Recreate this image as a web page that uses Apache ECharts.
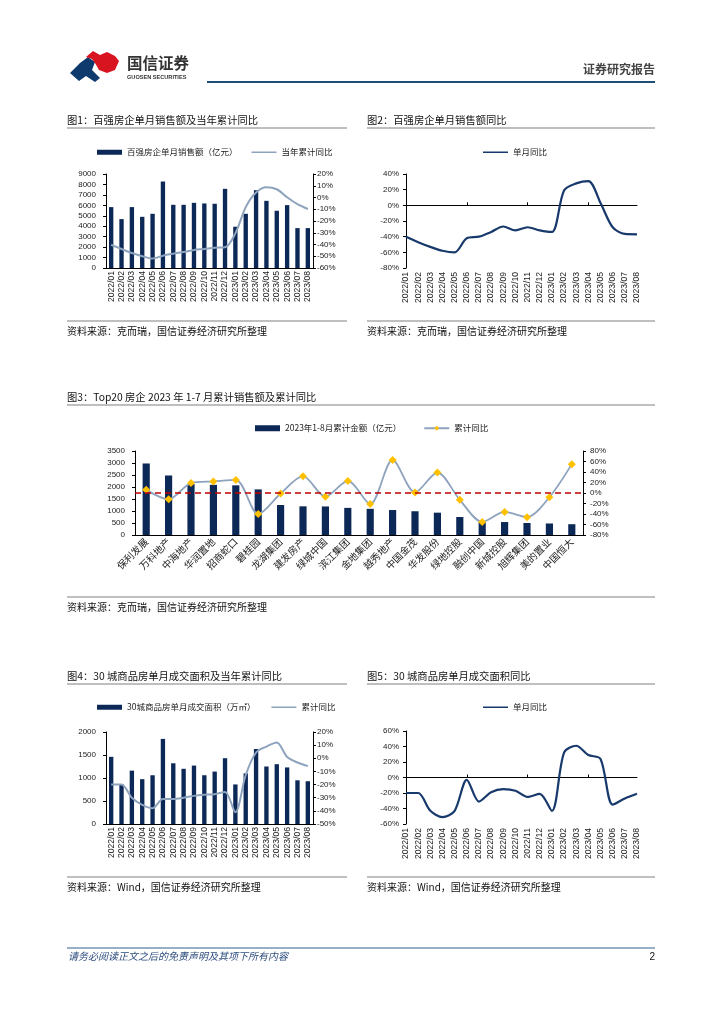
<!DOCTYPE html>
<html><head><meta charset="utf-8">
<script src="https://cdn.jsdelivr.net/npm/echarts@6/dist/echarts.min.js"></script>
<style>html,body{margin:0;padding:0;background:#fff}#c{width:724px;height:1024px}</style>
</head><body><div id="c"></div>
<script>
// ---------- DATA ----------
const months = ['2022/01','2022/02','2022/03','2022/04','2022/05','2022/06','2022/07','2022/08','2022/09','2022/10','2022/11','2022/12','2023/01','2023/02','2023/03','2023/04','2023/05','2023/06','2023/07','2023/08'];
// Fig1
const c1Sales = [5830,4680,5830,4900,5190,8280,6050,6050,6240,6180,6150,7580,3950,5190,7450,6430,5480,6020,3820,3820];
const c1CumYoY = [-40.2,-43.8,-47.2,-50,-52,-49.5,-47.8,-46.4,-44.7,-43.8,-42.7,-42.4,-30.5,-8.2,4.2,8.7,7,0.2,-5.7,-9.8];
// Fig2
const c2MonthYoY = [-40,-47,-53,-58,-60,-42,-40,-34,-27,-32,-28,-32,-34,19,28,31,3,-28,-36.5,-37];
// Fig3
const c3Companies = ['保利发展','万科地产','中海地产','华润置地','招商蛇口','碧桂园','龙湖集团','建发房产','绿城中国','滨江集团','金地集团','越秀地产','中国金茂','华发股份','绿地控股','融创中国','新城控股','旭辉集团','美的置业','中国恒大'];
const c3Sales = [2980,2480,2120,2090,2070,1900,1250,1195,1190,1130,1090,1040,990,930,750,560,540,500,480,450];
const c3CumYoY = [6,-12,19,22,25,-40,-1,32,-7,23,-21,63,1,39,-13,-55,-36,-46,-8,55];
// Fig4
const c4Area = [1460,860,1160,975,1060,1850,1320,1200,1270,1060,1140,1430,860,1100,1630,1250,1300,1230,950,930];
const c4CumYoY = [-20,-20,-30,-35.5,-38,-31,-31,-30,-28.6,-27.8,-27.3,-25.6,-41,-12.7,4.4,8.9,12,1,-3.2,-6];
// Fig5
const c5MonthYoY = [-20,-20,-43,-51,-43,-3,-31,-19,-15,-17,-25,-21,-43,32,41,29,24,-35,-27,-21];

// ---------- STYLE ----------
const NAVY = '#0c2857';
const STEEL = '#8ea3bd';
const LINE2 = '#17396b';
const FONT = '"Liberation Sans", Arial, "Noto Sans CJK SC", sans-serif';
const CJK = '"Noto Sans CJK SC", "Liberation Sans", sans-serif';
const pct = v => v + '%';
const plain = v => String(v);
const SMOOTH = 0.3;
// thin horizontal line icon (bounds kept at full item box)
const LINE_ICON = 'path://M0,0L0.01,0M0,1.8L25,1.8L25,3.2L0,3.2ZM25,5L24.99,5';

function valAxis(grid, pos, min, max, interval, fmt, margin) {
  return {type:'value', gridIndex:grid, position:pos, min:min, max:max, interval:interval,
    splitLine:{show:false},
    axisLine:{show:true, onZero:false, lineStyle:{color:'#000', width:1}},
    axisTick:{show:true, length:3, lineStyle:{color:'#000'}},
    axisLabel:{fontSize:8, color:'#222', margin:margin, fontFamily:FONT, formatter:fmt}};
}
function catAxis(grid, data, gap, rotate, fs, showLine, margin) {
  return {type:'category', gridIndex:grid, data:data, boundaryGap:gap, position:'bottom',
    axisLine:{show:showLine, onZero:false, lineStyle:{color:'#000', width:1}},
    axisTick:{show:false},
    axisLabel:{interval:0, rotate:rotate, fontSize:fs, color:'#222', margin:margin, fontFamily:rotate===45?CJK:FONT}};
}
function zeroAxis(grid, data) {
  return {type:'category', gridIndex:grid, data:data, boundaryGap:false, position:'bottom',
    axisLine:{show:true, onZero:true, lineStyle:{color:'#000', width:1}},
    axisTick:{show:true, inside:true, length:3, lineStyle:{color:'#000'}},
    axisLabel:{show:false}};
}
function legend(left, top, gap, ih, items) {
  return {left:left, top:top, itemWidth:25, itemHeight:ih, itemGap:gap, padding:0,
    textStyle:{fontSize:8.5, color:'#222', fontFamily:CJK},
    formatter: n => n.split('#')[0], selectedMode:false, data:items};
}

// ---------- GRAPHICS (text & rules) ----------
const G = [];
function txt(x, y, s, font, fill, align) {
  G.push({type:'text', x:x, y:y, style:{text:s, font:font, fill:fill||'#111', align:align||'left', verticalAlign:'middle'}});
}
function rule(x1, y, x2, color, w) {
  G.push({type:'line', shape:{x1:x1, y1:y, x2:x2, y2:y}, style:{stroke:color, lineWidth:w}});
}
// logo
G.push({type:'polygon', shape:{points:[[70,73],[80,63],[88,57],[95,62],[92,70],[100,78],[95,82],[86,76],[79,81]]}, style:{fill:'#0f3a6e'}});
G.push({type:'polygon', shape:{points:[[86,57],[93,51],[100,55],[107,52],[115,56],[119,61],[115,70],[107,73],[99,70],[95,63],[92,59]]}, style:{fill:'#d7141f'}});
txt(127, 63, '国信证券', 'bold 15.5px ' + CJK, '#333');
txt(127, 77, 'GUOSEN SECURITIES', 'bold 5.6px ' + FONT, '#333');
rule(207, 82, 655, '#1f4e79', 2);
txt(655, 69, '证券研究报告', 'bold 12px ' + CJK, '#444', 'right');

const TF = '10.3px ' + CJK;
const SF = '10px ' + CJK;
txt(67, 120, '图1：百强房企单月销售额及当年累计同比', TF);
rule(67, 128, 347, '#808080', 1.2);
txt(367, 120, '图2：百强房企单月销售额同比', TF);
rule(367, 128, 655, '#808080', 1.2);
rule(67, 321, 347, '#808080', 1.2);
rule(367, 321, 655, '#808080', 1.2);
txt(67, 331, '资料来源：克而瑞，国信证券经济研究所整理', SF);
txt(367, 331, '资料来源：克而瑞，国信证券经济研究所整理', SF);

txt(67, 397, '图3：Top20 房企 2023 年 1-7 月累计销售额及累计同比', TF);
rule(67, 405, 655, '#808080', 1.2);
rule(67, 597, 655, '#808080', 1.2);
txt(67, 607, '资料来源：克而瑞，国信证券经济研究所整理', SF);

txt(67, 676, '图4：30 城商品房单月成交面积及当年累计同比', TF);
rule(67, 684, 347, '#808080', 1.2);
txt(367, 676, '图5：30 城商品房单月成交面积同比', TF);
rule(367, 684, 655, '#808080', 1.2);
rule(67, 877, 347, '#808080', 1.2);
rule(367, 877, 655, '#808080', 1.2);
txt(67, 887, '资料来源：Wind，国信证券经济研究所整理', SF);
txt(367, 887, '资料来源：Wind，国信证券经济研究所整理', SF);

rule(67, 948, 655, '#2e5e8e', 1);
txt(68, 956, '请务必阅读正文之后的免责声明及其项下所有内容', 'italic 10px ' + CJK, '#2f4f7f');
txt(655, 957, '2', '10px ' + FONT, '#111', 'right');

// ---------- CHART ----------
const option = {
  animation:false,
  backgroundColor:'#fff',
  graphic:G,
  grid:[
    {left:106, top:174, width:207, height:94},
    {left:406, top:174, width:231, height:94},
    {left:135, top:451, width:448, height:84},
    {left:106, top:732, width:207, height:92},
    {left:406, top:731, width:231, height:93}
  ],
  xAxis:[
    catAxis(0, months, true, 90, 8.6, true, 3),
    catAxis(1, months, false, 90, 8.6, false, 4),
    zeroAxis(1, months),
    catAxis(2, c3Companies, true, 45, 9.8, true, 5),
    catAxis(3, months, true, 90, 8.6, true, 3),
    catAxis(4, months, false, 90, 8.6, false, 4),
    zeroAxis(4, months)
  ],
  yAxis:[
    valAxis(0, 'left', 0, 9000, 1000, plain, 10),
    valAxis(0, 'right', -60, 20, 10, pct, 4),
    valAxis(1, 'left', -80, 40, 20, pct, 7),
    valAxis(2, 'left', 0, 3500, 500, plain, 10),
    valAxis(2, 'right', -80, 80, 20, pct, 7),
    valAxis(3, 'left', 0, 2000, 500, plain, 10),
    valAxis(3, 'right', -50, 20, 10, pct, 4),
    valAxis(4, 'left', -60, 60, 20, pct, 7)
  ],
  legend:[
    legend(97, 148, 14, 5, [{name:'百强房企单月销售额（亿元）#1', icon:'rect'}, {name:'当年累计同比#1', icon:LINE_ICON}]),
    legend(483, 148, 10, 5, [{name:'单月同比#2', icon:LINE_ICON}]),
    legend(255, 424, 22, 6, [{name:'2023年1-8月累计金额（亿元）#3', icon:'rect'}, {name:'累计同比#3'}]),
    legend(97, 703, 16, 5, [{name:'30城商品房单月成交面积（万㎡）#4', icon:'rect'}, {name:'累计同比#4', icon:LINE_ICON}]),
    legend(483, 703, 10, 5, [{name:'单月同比#5', icon:LINE_ICON}])
  ],
  series:[
    {type:'bar', name:'百强房企单月销售额（亿元）#1', xAxisIndex:0, yAxisIndex:0, data:c1Sales, barWidth:'42%', itemStyle:{color:NAVY}},
    {type:'line', name:'当年累计同比#1', xAxisIndex:0, yAxisIndex:1, data:c1CumYoY, smooth:SMOOTH, symbol:'none', lineStyle:{color:STEEL, width:2}, itemStyle:{color:STEEL}},
    {type:'line', name:'单月同比#2', xAxisIndex:1, yAxisIndex:2, data:c2MonthYoY, smooth:SMOOTH, symbol:'none', lineStyle:{color:LINE2, width:2.2}, itemStyle:{color:LINE2}},
    {type:'bar', name:'2023年1-8月累计金额（亿元）#3', xAxisIndex:3, yAxisIndex:3, data:c3Sales, barWidth:'32%', itemStyle:{color:NAVY}},
    {type:'line', name:'累计同比#3', xAxisIndex:3, yAxisIndex:4, data:c3CumYoY, smooth:SMOOTH, symbol:'diamond', symbolSize:8,
      lineStyle:{color:STEEL, width:1.8}, itemStyle:{color:'#ffc000'},
      markLine:{silent:true, symbol:'none', label:{show:false}, data:[{yAxis:0}], lineStyle:{color:'#c00000', type:[6,4], width:1.5}}},
    {type:'bar', name:'30城商品房单月成交面积（万㎡）#4', xAxisIndex:4, yAxisIndex:5, data:c4Area, barWidth:'42%', itemStyle:{color:NAVY}},
    {type:'line', name:'累计同比#4', xAxisIndex:4, yAxisIndex:6, data:c4CumYoY, smooth:SMOOTH, symbol:'none', lineStyle:{color:STEEL, width:2}, itemStyle:{color:STEEL}},
    {type:'line', name:'单月同比#5', xAxisIndex:5, yAxisIndex:7, data:c5MonthYoY, smooth:SMOOTH, symbol:'none', lineStyle:{color:LINE2, width:2.2}, itemStyle:{color:LINE2}}
  ]
};
const chart = echarts.init(document.getElementById('c'), null, {renderer:'canvas'});
chart.setOption(option);
</script>
</body></html>
